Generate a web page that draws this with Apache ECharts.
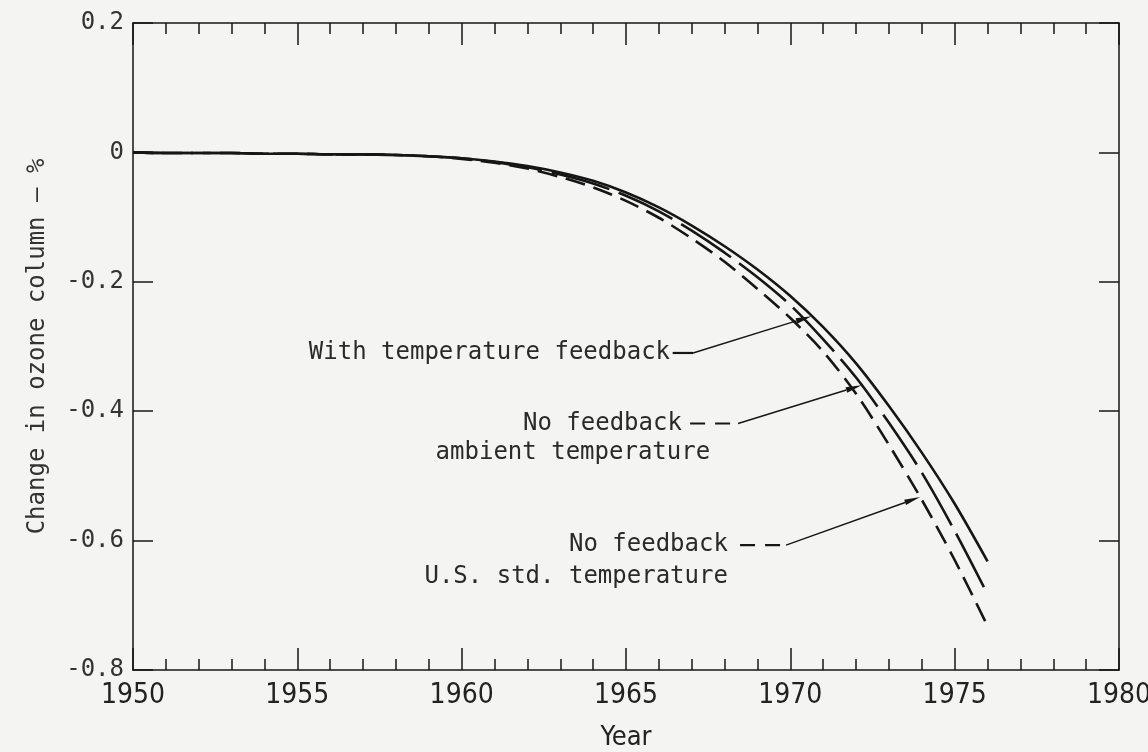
<!DOCTYPE html>
<html>
<head>
<meta charset="utf-8">
<script src="https://cdn.jsdelivr.net/npm/echarts@6/dist/echarts.min.js"></script>
<style>
  html, body { margin: 0; padding: 0; background: #f4f4f2; }
  #chart { width: 1148px; height: 752px; }
</style>
</head>
<body>
<div id="chart"></div>
<script>
// Years of the model run
const years = [1950, 1951, 1952, 1953, 1954, 1955, 1956, 1957, 1958, 1959,
               1960, 1961, 1962, 1963, 1964, 1965, 1966, 1967, 1968, 1969,
               1970, 1971, 1972, 1973, 1974, 1975, 1976];

// Change in ozone column, percent
const withFeedback = [0, -0.001, -0.001, -0.001, -0.002, -0.002, -0.003, -0.003, -0.004, -0.006,
                      -0.009, -0.014, -0.021, -0.031, -0.044, -0.062, -0.085, -0.113, -0.145, -0.181,
                      -0.222, -0.270, -0.326, -0.392, -0.464, -0.543, -0.632];
const noFeedbackAmbient = [0, -0.001, -0.001, -0.001, -0.002, -0.002, -0.003, -0.003, -0.004, -0.006,
                           -0.009, -0.015, -0.023, -0.034, -0.048, -0.067, -0.091, -0.121, -0.155, -0.193,
                           -0.236, -0.289, -0.348, -0.418, -0.495, -0.585, -0.683];
const noFeedbackUSStd = [0, -0.001, -0.001, -0.001, -0.002, -0.002, -0.003, -0.003, -0.004, -0.006,
                         -0.010, -0.016, -0.025, -0.038, -0.054, -0.075, -0.101, -0.133, -0.169, -0.211,
                         -0.256, -0.308, -0.373, -0.452, -0.537, -0.630, -0.732];

const xTickLabels = ['1950', '1955', '1960', '1965', '1970', '1975', '1980'];
const yTickLabels = ['-0.8', '-0.6', '-0.4', '-0.2', '0', '0.2'];

// Curve labels: text lines (right edge, in data units), leader sample segment and arrow target year
const labelTexts = [
  [{ text: 'With temperature feedback', x: 1966.34, y: -0.310 }],
  [{ text: 'No feedback', x: 1966.70, y: -0.419 }, { text: 'ambient temperature', x: 1967.56, y: -0.465 }],
  [{ text: 'No feedback', x: 1968.10, y: -0.607 }, { text: 'U.S. std. temperature', x: 1968.10, y: -0.656 }]
];
const leaderStart = [[1966.42, -0.310], [1966.95, -0.419], [1968.47, -0.607]];
const leaderElbow = [[1967.04, -0.310], [1968.41, -0.419], [1969.87, -0.607]];
const arrowYear = [1970.65, 1972.17, 1973.95];

const curves = [withFeedback, noFeedbackAmbient, noFeedbackUSStd];
const dashes = ['solid', [60, 10], [20, 9]];
const ink = '#161616';

const monoFont = '"DejaVu Sans Mono", "Liberation Mono", monospace';
const narrowFont = '"Liberation Sans Narrow", "DejaVu Sans Condensed", "Roboto Condensed", Roboto, sans-serif';

const chart = echarts.init(document.getElementById('chart'), null, { renderer: 'canvas' });

const tickCommon = {
  axisLine: { show: true, onZero: false, lineStyle: { color: ink, width: 1.5 } },
  splitLine: { show: false }
};

const option = {
  backgroundColor: '#f4f4f2',
  animation: false,
  grid: { left: 133, right: 29, top: 23, bottom: 82, containLabel: false, outerBoundsMode: 'none' },
  xAxis: [
    Object.assign({
      type: 'value', position: 'bottom', min: 1950, max: 1980, interval: 5,
      name: 'Year', nameLocation: 'middle', nameGap: 54,
      nameTextStyle: { fontFamily: narrowFont, fontSize: 27, color: '#222' },
      axisTick: { show: true, inside: true, length: 22, lineStyle: { color: ink, width: 1.5 } },
      minorTick: { show: true, splitNumber: 5, length: 11, lineStyle: { color: ink, width: 1.5 } },
      axisLabel: {
        margin: 12, fontFamily: narrowFont, fontSize: 28, color: '#222',
        formatter: v => xTickLabels[Math.round((v - 1950) / 5)]
      }
    }, tickCommon),
    Object.assign({
      type: 'value', position: 'top', min: 1950, max: 1980, interval: 5,
      axisTick: { show: true, inside: true, length: 22, lineStyle: { color: ink, width: 1.5 } },
      minorTick: { show: true, splitNumber: 5, length: 11, lineStyle: { color: ink, width: 1.5 } },
      axisLabel: { show: false }
    }, tickCommon)
  ],
  yAxis: [
    Object.assign({
      type: 'value', position: 'left', min: -0.8, max: 0.2, interval: 0.2,
      name: 'Change in ozone column \u2013 %', nameLocation: 'middle', nameGap: 83, nameRotate: 90,
      nameTextStyle: { fontFamily: monoFont, fontSize: 24, color: '#333' },
      axisTick: { show: true, inside: true, length: 20, lineStyle: { color: ink, width: 1.5 } },
      axisLabel: {
        margin: 9, fontFamily: monoFont, fontSize: 24, color: '#333',
        formatter: v => yTickLabels[Math.round((v + 0.8) / 0.2)]
      }
    }, tickCommon),
    Object.assign({
      type: 'value', position: 'right', min: -0.8, max: 0.2, interval: 0.2,
      axisTick: { show: true, inside: true, length: 20, lineStyle: { color: ink, width: 1.5 } },
      axisLabel: { show: false }
    }, tickCommon)
  ],
  series: curves.map((vals, i) => ({
    type: 'line',
    name: ['With temperature feedback', 'No feedback, ambient temperature', 'No feedback, U.S. std. temperature'][i],
    xAxisIndex: 0, yAxisIndex: 0,
    data: years.map((yr, k) => [yr, vals[k]]),
    showSymbol: false, symbol: 'none',
    smooth: 0.3,
    z: 3 - i,
    lineStyle: { color: ink, width: 2.6, type: dashes[i], cap: 'butt' }
  }))
};

chart.setOption(option);

// Value of a curve at a given year, between its data points
function curveAt(vals, yr) {
  for (let k = 0; k < years.length - 1; k++) {
    if (yr >= years[k] && yr <= years[k + 1]) {
      const t = (yr - years[k]) / (years[k + 1] - years[k]);
      return vals[k] + t * (vals[k + 1] - vals[k]);
    }
  }
  return vals[vals.length - 1];
}

const toPx = p => chart.convertToPixel({ gridIndex: 0 }, p);
const graphics = [];

labelTexts.forEach((lines, i) => {
  lines.forEach(ln => {
    const p = toPx([ln.x, ln.y]);
    graphics.push({
      type: 'text', z: 10,
      style: {
        text: ln.text, x: p[0], y: p[1], align: 'right', verticalAlign: 'middle',
        font: '24px ' + monoFont, fill: '#2a2a2a'
      }
    });
  });

  const a = toPx(leaderStart[i]);
  const b = toPx(leaderElbow[i]);
  const tip = toPx([arrowYear[i], curveAt(curves[i], arrowYear[i])]);

  // short sample of the curve's own line style
  graphics.push({
    type: 'line', z: 10,
    shape: { x1: a[0], y1: a[1], x2: b[0], y2: b[1] },
    style: { stroke: ink, lineWidth: 2.2, lineDash: dashes[i] === 'solid' ? null : [15, 10] }
  });

  // thin leader to the curve with an arrowhead
  const dx = tip[0] - b[0], dy = tip[1] - b[1];
  const len = Math.hypot(dx, dy);
  const ux = dx / len, uy = dy / len;
  const headLen = 16, headHalf = 2.8;
  const base = [tip[0] - ux * headLen, tip[1] - uy * headLen];
  graphics.push({
    type: 'line', z: 10,
    shape: { x1: b[0], y1: b[1], x2: base[0], y2: base[1] },
    style: { stroke: ink, lineWidth: 1.4 }
  });
  graphics.push({
    type: 'polygon', z: 10,
    shape: { points: [tip, [base[0] - uy * headHalf, base[1] + ux * headHalf], [base[0] + uy * headHalf, base[1] - ux * headHalf]] },
    style: { fill: ink }
  });
});

chart.setOption({ graphic: graphics });
</script>
</body>
</html>
